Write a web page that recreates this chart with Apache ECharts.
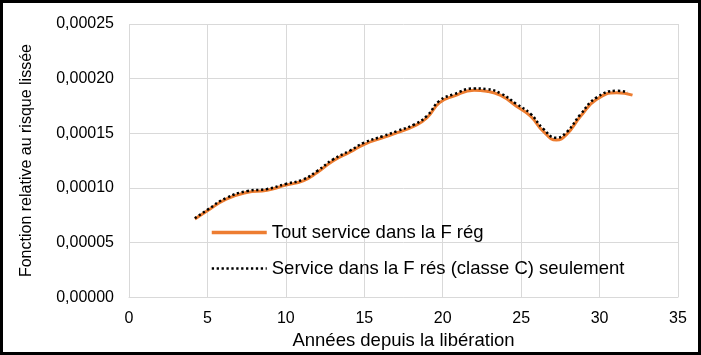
<!DOCTYPE html>
<html>
<head>
<meta charset="utf-8">
<script src="https://cdn.jsdelivr.net/npm/echarts@6/dist/echarts.min.js"></script>
<style>
html,body{margin:0;padding:0;background:#fff;}
#c{width:701px;height:355px;}
</style>
</head>
<body>
<div id="c"></div>
<script>
// Data
var yearsA = [4.2, 5.0, 6.2, 7.5, 8.8, 10.0, 11.1, 12.0, 13.0, 14.1, 15.0, 16.2, 17.1, 18.2, 19.0, 19.8, 20.7, 22.0, 22.8, 23.7, 24.7, 25.6, 26.4, 27.25, 27.9, 28.8, 29.8, 31.1, 32.1];
var toutService = [0.0000714, 0.0000790, 0.0000897, 0.0000958, 0.0000979, 0.0001025, 0.0001064, 0.0001140, 0.0001246, 0.0001328, 0.0001399, 0.0001460, 0.0001505, 0.0001566, 0.0001642, 0.0001780, 0.0001840, 0.0001894, 0.0001885, 0.0001846, 0.0001748, 0.0001657, 0.0001520, 0.0001438, 0.0001490, 0.0001657, 0.0001810, 0.0001870, 0.0001849];
var yearsB = [4.2, 5.0, 6.2, 7.5, 8.8, 10.0, 11.1, 12.0, 13.0, 14.1, 15.0, 16.2, 17.1, 18.2, 19.0, 19.8, 20.7, 22.0, 22.8, 23.7, 24.7, 25.6, 26.4, 27.25, 27.9, 28.8, 29.8, 31.1, 31.8];
var serviceClasseC = [0.0000722, 0.0000800, 0.0000908, 0.0000970, 0.0000990, 0.0001036, 0.0001077, 0.0001155, 0.0001260, 0.0001342, 0.0001414, 0.0001474, 0.0001520, 0.0001582, 0.0001660, 0.0001798, 0.0001856, 0.0001910, 0.0001904, 0.0001864, 0.0001768, 0.0001678, 0.0001542, 0.0001458, 0.0001510, 0.0001676, 0.0001826, 0.0001888, 0.0001878];
var xTicks = [0, 5, 10, 15, 20, 25, 30, 35];
var yTicks = [0, 0.00005, 0.0001, 0.00015, 0.0002, 0.00025];
var seriesNames = ['Tout service dans la F rég', 'Service dans la F rés (classe C) seulement'];
var xTitle = 'Années depuis la libération';
var yTitle = 'Fonction relative au risque lissée';

function pairs(xs, ys){ return xs.map(function(x,i){ return [x, ys[i]]; }); }

var chart = echarts.init(document.getElementById('c'), null, {renderer:'canvas'});
var font = 'Liberation Sans, Arial, sans-serif';
chart.setOption({
  animation:false,
  backgroundColor:'#fff',
  textStyle:{fontFamily:font},
  grid:{left:129, right:23, top:24, bottom:57, containLabel:false},
  xAxis:{
    type:'value', min:xTicks[0], max:xTicks[xTicks.length-1], interval:5,
    name:xTitle, nameLocation:'middle', nameGap:33,
    nameTextStyle:{fontSize:18.5, color:'#000', fontFamily:font},
    axisLine:{show:true, lineStyle:{color:'#d9d9d9', width:1}},
    axisTick:{show:false},
    axisLabel:{fontSize:16, color:'#000', margin:13, fontFamily:font},
    splitLine:{show:true, lineStyle:{color:'#d9d9d9', width:1}}
  },
  yAxis:{
    type:'value', min:yTicks[0], max:yTicks[yTicks.length-1], interval:0.00005,
    name:yTitle, nameLocation:'middle', nameGap:94, nameRotate:90,
    nameTextStyle:{fontSize:16, color:'#000', fontFamily:font},
    axisLine:{show:false}, axisTick:{show:false},
    axisLabel:{fontSize:16, color:'#000', margin:15, fontFamily:font,
      formatter:function(v){ return v.toFixed(5).replace('.', ','); }},
    splitLine:{show:true, lineStyle:{color:'#d9d9d9', width:1}}
  },
  legend:{
    orient:'vertical', left:205, top:218, itemGap:17,
    itemWidth:55, itemHeight:14,
    itemStyle:{opacity:0},
    textStyle:{fontSize:18.5, color:'#000', fontFamily:font},
    data:[
      {name:seriesNames[0], lineStyle:{width:3.5, color:'#ED7D31'}},
      {name:seriesNames[1], lineStyle:{width:2.5, color:'#000', type:[2.3,2.6]}}
    ]
  },
  series:[
    {name:seriesNames[0], type:'line', smooth:true, symbol:'none',
     data:pairs(yearsA, toutService),
     lineStyle:{color:'#ED7D31', width:3}, itemStyle:{color:'#ED7D31'}, z:2},
    {name:seriesNames[1], type:'line', smooth:true, symbol:'none',
     data:pairs(yearsB, serviceClasseC),
     lineStyle:{color:'#000', width:2.5, type:[2.3,2.6]}, itemStyle:{color:'#000'}, z:3}
  ],
  graphic:[{type:'rect', shape:{x:1.5, y:1.5, width:698, height:352}, style:{fill:null, stroke:'#000', lineWidth:3}, silent:true, z:100}]
});
</script>
</body>
</html>
